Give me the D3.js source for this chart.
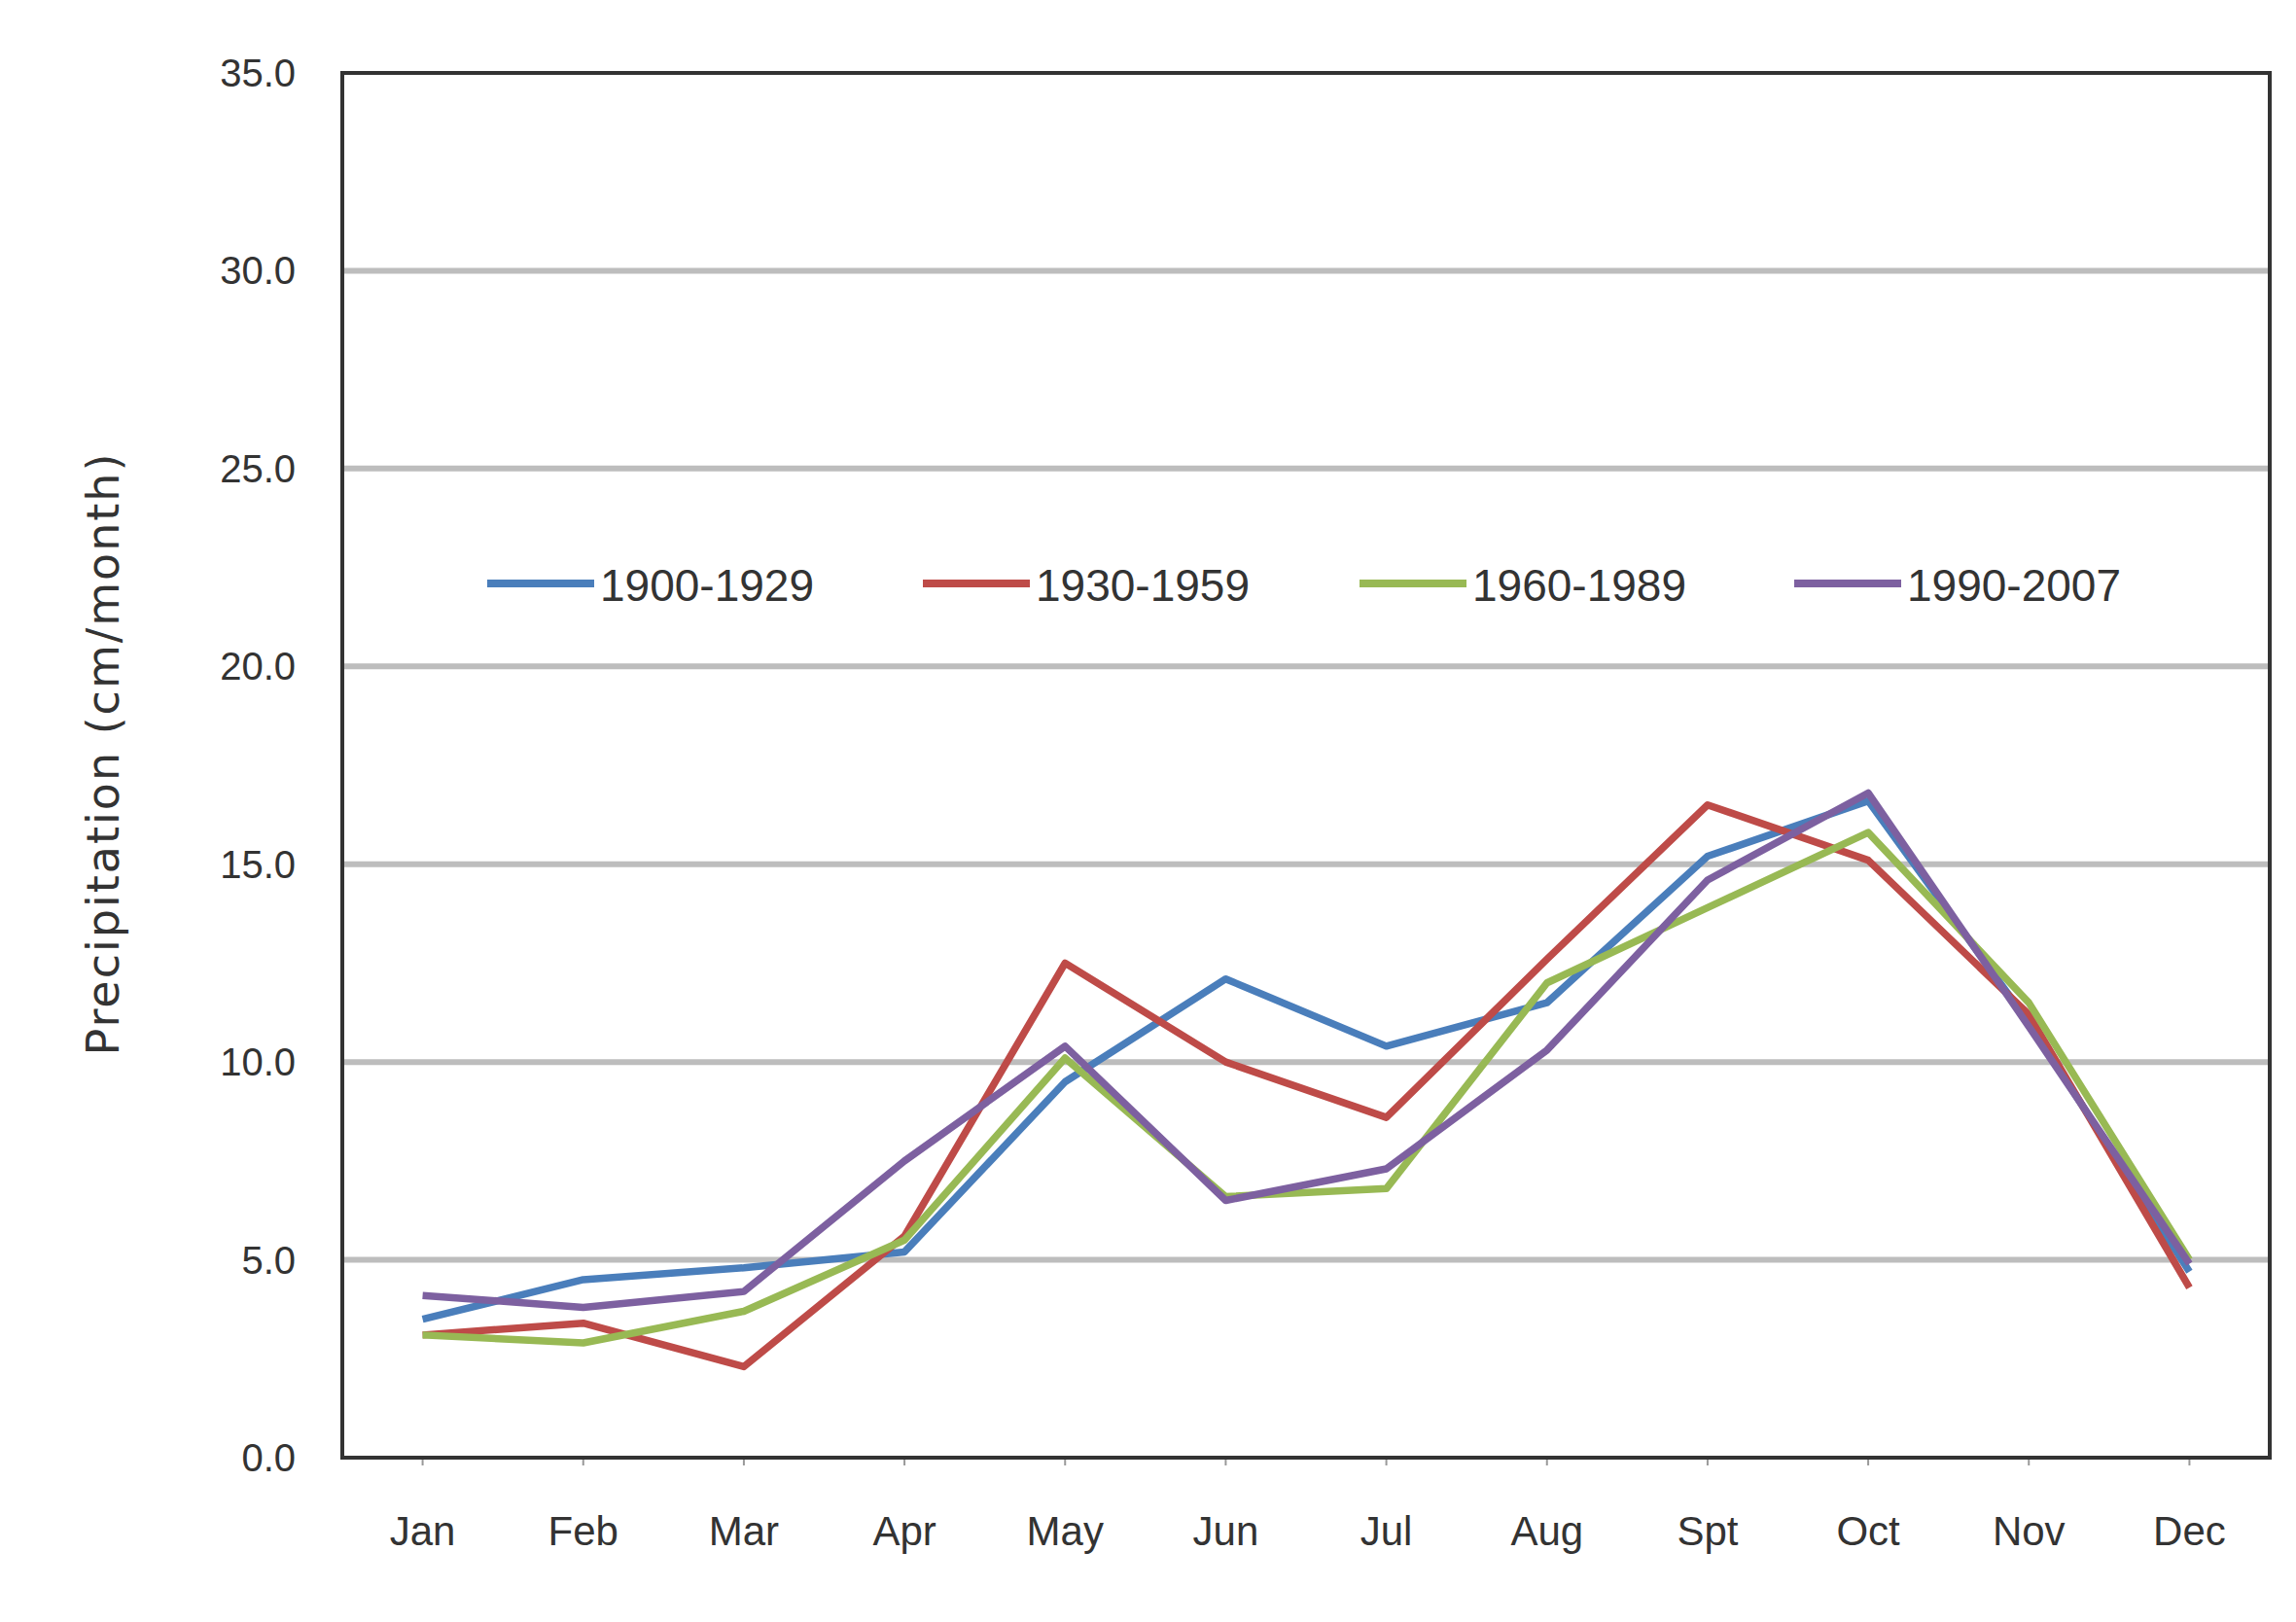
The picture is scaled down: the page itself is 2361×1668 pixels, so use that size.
<!DOCTYPE html>
<html><head><meta charset="utf-8">
<script src="https://cdn.jsdelivr.net/npm/d3@7"></script>
<style>body{margin:0;background:#fff}</style></head>
<body><svg id="c" width="2361" height="1668"></svg>
<script>
const months=["Jan","Feb","Mar","Apr","May","Jun","Jul","Aug","Spt","Oct","Nov","Dec"];
const seriesNames=["1900-1929","1930-1959","1960-1989","1990-2007"];
const s1900=[3.5,4.5,4.8,5.2,9.5,12.1,10.4,11.5,15.2,16.6,11.0,4.7];
const s1930=[3.1,3.4,2.3,5.6,12.5,10.0,8.6,12.6,16.5,15.1,11.2,4.3];
const s1960=[3.1,2.9,3.7,5.5,10.1,6.6,6.8,12.0,13.9,15.8,11.5,5.0];
const s1990=[4.1,3.8,4.2,7.5,10.4,6.5,7.3,10.3,14.6,16.8,10.9,4.9];
const yTicks=[0,5,10,15,20,25,30,35];
const colors=["#4a7ebb","#be4b48","#98b954","#7d60a0"];
const data=[s1900,s1930,s1960,s1990];

const L=352,R=2334,T=75,B=1499;
const svg=d3.select("#c");
const x=d3.scalePoint().domain(months).range([L,R]).padding(0.5);
const y=d3.scaleLinear().domain([0,35]).range([B,T]);
const font="Liberation Sans, Arial, sans-serif";

svg.append("g").selectAll("line").data(yTicks.filter(d=>d>0&&d<35)).join("line")
 .attr("x1",L).attr("x2",R).attr("y1",d=>y(d)).attr("y2",d=>y(d))
 .attr("stroke","#bdbdbd").attr("stroke-width",6);

svg.append("g").selectAll("text").data(yTicks).join("text")
 .attr("x",L-48).attr("y",d=>y(d)).attr("dy","0.35em").attr("text-anchor","end")
 .attr("font-family",font).attr("font-size",40).attr("fill","#333")
 .text(d=>d.toFixed(1));

svg.append("g").selectAll("text").data(months).join("text")
 .attr("x",d=>x(d)).attr("y",B+90).attr("text-anchor","middle")
 .attr("font-family",font).attr("font-size",42).attr("fill","#333").text(d=>d);
svg.append("g").selectAll("line").data(months).join("line")
 .attr("x1",d=>x(d)).attr("x2",d=>x(d)).attr("y1",B).attr("y2",B+8)
 .attr("stroke","#999").attr("stroke-width",2);

const line=d3.line().x((d,i)=>x(months[i])).y(d=>y(d));
data.forEach((s,k)=>{
 svg.append("path").datum(s).attr("d",line).attr("fill","none")
  .attr("stroke",colors[k]).attr("stroke-width",7.5).attr("stroke-linejoin","round");
});

svg.append("rect").attr("x",L).attr("y",T).attr("width",R-L).attr("height",B-T)
 .attr("fill","none").attr("stroke","#333").attr("stroke-width",4);

const lx=[501,949,1398,1845];
const lg=svg.append("g");
seriesNames.forEach((n,k)=>{
 lg.append("line").attr("x1",lx[k]).attr("x2",lx[k]+110).attr("y1",600).attr("y2",600)
  .attr("stroke",colors[k]).attr("stroke-width",8);
 lg.append("text").attr("x",lx[k]+116).attr("y",602).attr("dy","0.35em")
  .attr("font-family",font).attr("font-size",46).attr("fill","#333").text(n);
});

svg.append("text").attr("transform","translate(122,775) rotate(-90)")
 .attr("text-anchor","middle").attr("font-family","DejaVu Sans, sans-serif")
 .attr("font-size",46).attr("fill","#333").attr("letter-spacing",2)
 .text("Precipitation (cm/month)");
</script></body></html>
